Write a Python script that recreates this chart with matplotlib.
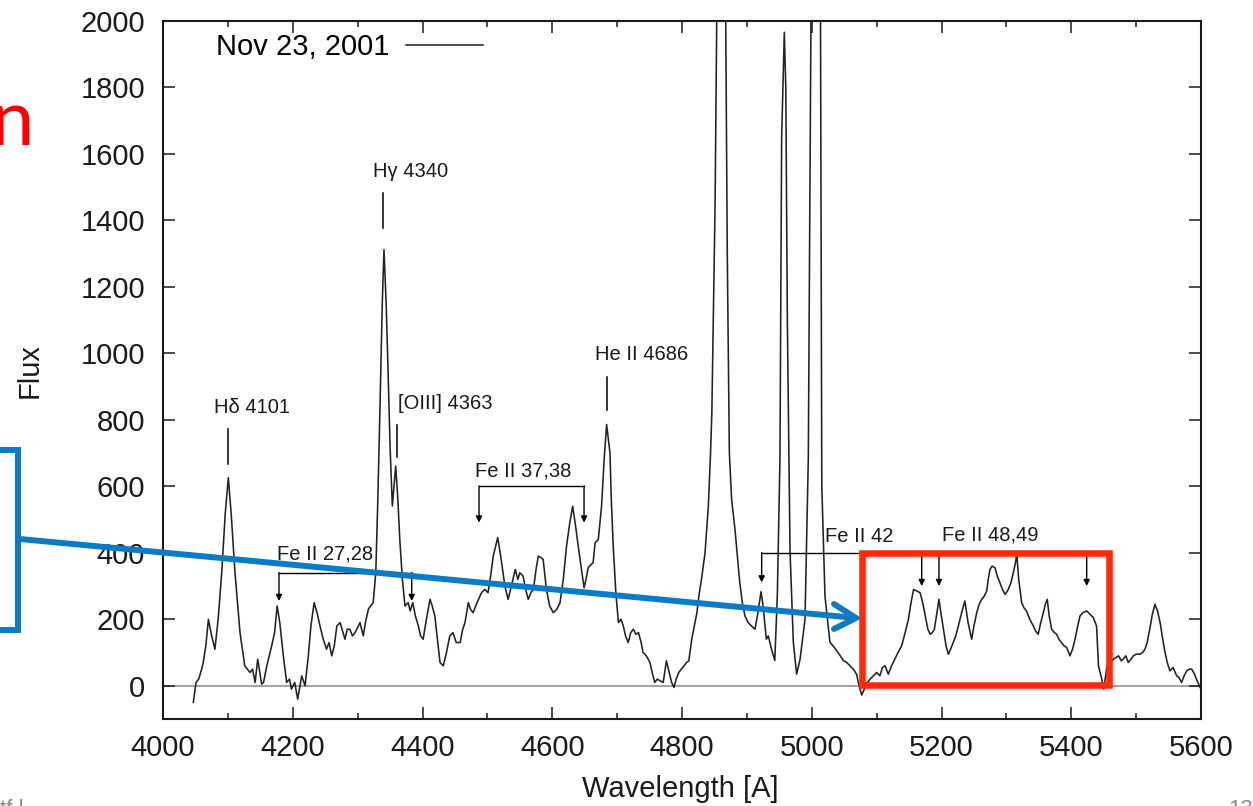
import numpy as np
import matplotlib
matplotlib.use("Agg")
import matplotlib.pyplot as plt
from matplotlib.lines import Line2D
from matplotlib.patches import Rectangle
from matplotlib.ticker import MultipleLocator

plt.rcParams['font.family'] = ['Liberation Sans', 'DejaVu Sans']

# spectrum (wavelength in A, flux)
wave = [4046.7, 4051, 4055, 4059.6, 4062, 4066, 4070, 4075, 4080, 4085, 4090.5, 4096,
        4100.7, 4105, 4111, 4118.7, 4126, 4134, 4138, 4142, 4146, 4152, 4155, 4160,
        4167.5, 4172, 4176, 4180, 4185.5, 4190.6, 4195, 4198, 4203, 4207.6, 4213.8, 4219,
        4224, 4228, 4233, 4238, 4242, 4247, 4252, 4256, 4260, 4264, 4268, 4273,
        4280.5, 4284, 4288, 4292, 4296, 4300, 4303.6, 4308.7, 4312, 4316.5, 4320, 4324,
        4328, 4331, 4334.5, 4338, 4340.6, 4344, 4347, 4350, 4353.5, 4356, 4358.7, 4362,
        4365, 4369, 4373, 4378, 4381, 4385, 4389, 4393.6, 4397, 4401, 4406, 4411.6,
        4415, 4419, 4423, 4427, 4432, 4437, 4442, 4447, 4452, 4458, 4462, 4465.5,
        4470.6, 4474, 4478, 4484, 4491, 4496, 4501, 4505, 4509, 4516, 4522, 4527,
        4532, 4537, 4543, 4547, 4550, 4555, 4559, 4563, 4567, 4571, 4575, 4578.5,
        4583, 4586, 4591, 4596, 4601.6, 4607, 4612, 4617, 4622, 4627, 4631.5, 4636,
        4640, 4645, 4649, 4652, 4655.6, 4660, 4663, 4666, 4671, 4676, 4680, 4683.8,
        4689, 4691, 4694, 4698, 4702, 4706, 4709.5, 4713, 4717, 4721, 4725, 4729,
        4733, 4737, 4740, 4745, 4750.6, 4754, 4758, 4762, 4766, 4771, 4776, 4781,
        4784, 4787.7, 4791, 4795, 4799, 4803, 4807, 4810.5, 4815, 4819, 4823, 4826,
        4830, 4835.5, 4840.6, 4844, 4846, 4848, 4851, 4853.5, 4857, 4861, 4865, 4867.4,
        4869.8, 4873, 4876.5, 4881.7, 4889, 4893, 4897, 4902, 4907, 4912.5, 4917, 4921.8,
        4925, 4930, 4933, 4938, 4943, 4946.9, 4951, 4953.6, 4957.7, 4960, 4962.4, 4966.5,
        4971.6, 4976.7, 4982, 4989.6, 4994.7, 4998.8, 5002, 5006, 5010, 5013.5, 5015.5, 5020.4,
        5028, 5035, 5039, 5044, 5048.7, 5054, 5059, 5064, 5069, 5073, 5077, 5081,
        5084.6, 5090, 5095, 5100, 5105, 5109, 5113, 5118, 5123, 5128, 5133, 5138.6,
        5144, 5149, 5153, 5157, 5162, 5167, 5171, 5175, 5179, 5182.6, 5186, 5189,
        5193, 5196, 5199, 5203, 5207, 5210.5, 5214, 5218, 5222, 5226, 5231, 5236,
        5241, 5246.5, 5250, 5254.3, 5258, 5262, 5266, 5269.7, 5272, 5274.8, 5278, 5282.5,
        5286, 5290, 5294, 5298, 5300, 5303, 5307, 5310.7, 5314, 5316, 5319, 5323.6,
        5327, 5331, 5336, 5341.6, 5345, 5349, 5353, 5357, 5360, 5363, 5366, 5369.8,
        5374, 5377.5, 5381, 5385, 5389, 5393, 5396, 5398, 5402, 5405.8, 5410, 5413.5,
        5418, 5424, 5429, 5434, 5439, 5442, 5447, 5450, 5453, 5455, 5460, 5465,
        5469, 5473, 5477, 5480, 5484, 5488, 5492, 5495.7, 5500, 5506, 5510, 5513.6,
        5517, 5521, 5525, 5529, 5533, 5537, 5541, 5544.6, 5548, 5552, 5557, 5562.5,
        5566, 5570, 5574, 5578, 5582, 5585.6, 5590, 5593, 5598.6]
flux = [-50, 10, 20, 50, 70, 120, 200, 150, 110, 200, 340, 520,
        626, 520, 340, 160, 60, 40, 50, 10, 80, 5, 10, 60,
        120, 160, 240, 190, 90, 10, 20, -10, 10, -40, 30, 0,
        90, 180, 250, 215, 180, 140, 110, 130, 90, 120, 180, 190,
        140, 170, 170, 150, 160, 175, 190, 150, 190, 230, 240, 250,
        340, 550, 841, 1150, 1312, 1150, 941, 720, 541, 600, 661, 560,
        440, 320, 240, 250, 225, 250, 210, 180, 150, 140, 200, 260,
        240, 210, 140, 70, 60, 100, 150, 160, 130, 130, 170, 190,
        250, 230, 220, 250, 280, 290, 280, 330, 390, 446, 370, 300,
        260, 300, 350, 320, 340, 330, 290, 260, 280, 290, 350, 390,
        385, 380, 290, 240, 220, 230, 250, 320, 420, 490, 540, 480,
        420, 350, 295, 320, 356, 365, 370, 430, 440, 540, 680, 786,
        700, 560, 420, 280, 190, 200, 180, 150, 130, 160, 170, 155,
        160, 130, 100, 90, 70, 40, 10, 20, 15, 10, 75, 35,
        10, -5, 20, 40, 50, 60, 70, 75, 140, 180, 220, 270,
        320, 400, 540, 700, 821, 1071, 1450, 2000, 2700, 3000, 2700, 2000,
        1300, 700, 560, 470, 311, 250, 210, 190, 180, 170, 220, 283,
        240, 140, 150, 110, 76, 269, 684, 1649, 1966, 1800, 1097, 407,
        131, 35, 80, 200, 684, 1980, 3500, 4500, 3500, 2000, 600, 269,
        131, 115, 104, 90, 76, 70, 60, 50, 35, 0, -28, -10,
        8, 20, 30, 40, 30, 55, 60, 35, 60, 80, 100, 120,
        160, 200, 250, 290, 285, 280, 250, 210, 170, 155, 160, 170,
        220, 260, 220, 170, 120, 95, 110, 130, 150, 180, 220, 255,
        190, 140, 180, 220, 245, 260, 270, 285, 320, 350, 360, 355,
        330, 310, 290, 275, 280, 290, 310, 340, 370, 396, 320, 250,
        235, 225, 200, 180, 165, 155, 190, 220, 245, 260, 210, 170,
        160, 155, 140, 130, 120, 115, 100, 90, 110, 140, 180, 210,
        220, 225, 215, 205, 180, 60, 20, -10, 30, 60, 70, 80,
        85, 90, 75, 80, 90, 70, 80, 90, 95, 95, 100, 110,
        130, 170, 215, 245, 225, 190, 140, 100, 70, 45, 55, 30,
        25, 10, 30, 45, 50, 50, 35, 20, -5]

# single-line identifications: label, line wavelength, tick top/bottom, text x, text baseline
line_names = ["H\u03b4 4101", "H\u03b3 4340", "[OIII] 4363", "He II 4686"]
line_wave = [4100.2, 4339.0, 4360.7, 4684.8]
line_tick = [(771, 666), (1483, 1378), (786, 687), (930, 829)]
line_text = [(4136.6, 822), (4382.0, 1532), (4435.4, 834), (4737.8, 979)]

# Fe II multiplet brackets
fe_names = ["Fe II 27,28", "Fe II 37,38", "Fe II 42", "Fe II 48,49"]
fe_text = [(4250.2, 381), (4555.4, 631), (5072.8, 432), (5275.5, 436)]
fe_brackets = [
    (340.7, [(4178.8, 255), (4383.4, 255)]),
    (601.0, [(4487.1, 491), (4649.0, 491)]),
    (400.8, [(4922.8, 311), (5169.5, 300), (5196.1, 300), (5423.8, 300)]),
]

W, H = 1253, 806
fig = plt.figure(figsize=(W / 100, H / 100), dpi=100)
ax = fig.add_axes([163 / W, 1 - 719 / H, 1038 / W, 698 / H])

ax.axhline(0, color='#9a9a9a', lw=1.3, zorder=1)
ax.plot(wave, flux, color='#222222', lw=1.15, label='Nov 23, 2001', zorder=2)

ax.set_xlim(4000, 5600)
ax.set_ylim(-100, 2000)
ax.set_xticks(np.arange(4000, 5601, 200))
ax.set_yticks(np.arange(0, 2001, 200))
ax.xaxis.set_minor_locator(MultipleLocator(100))
ax.tick_params(which='both', direction='in', top=True, right=True, width=1.1,
               labelsize=21, colors='#1a1a1a')
ax.tick_params(which='major', length=8.8)
ax.tick_params(which='minor', length=4.4)
ax.tick_params(axis='y', pad=13)
ax.tick_params(axis='x', pad=11)
for s in ax.spines.values():
    s.set_linewidth(1.5)
    s.set_color('#1a1a1a')

ax.set_xlabel('Wavelength [A]', fontsize=21, color='#1a1a1a')
ax.set_ylabel('Flux', fontsize=21, color='#1a1a1a')
ax.xaxis.set_label_coords(0.498, -0.08)
ax.yaxis.set_label_coords(-0.115, 0.5)

ax.legend(loc='center left', bbox_to_anchor=(0.0511, 0.963), markerfirst=False,
          frameon=False, fontsize=21, handlelength=2.62, handletextpad=0.58,
          borderpad=0, borderaxespad=0)

for name, w, (t1, t2), (tx, ty) in zip(line_names, line_wave, line_tick, line_text):
    ax.plot([w, w], [t1, t2], color='black', lw=1.1)
    ax.text(tx, ty, name, ha='center', va='baseline', fontsize=14.5, color='#1a1a1a')

for name, (tx, ty) in zip(fe_names, fe_text):
    ax.text(tx, ty, name, ha='center', va='baseline', fontsize=14.5, color='#1a1a1a')

for yb, arrows in fe_brackets:
    xs = [a[0] for a in arrows]
    ax.plot([min(xs), max(xs)], [yb, yb], color='black', lw=1.0)
    for xa, ya in arrows:
        ax.annotate('', xy=(xa, ya), xytext=(xa, yb),
                    arrowprops=dict(arrowstyle='-|>', color='black', lw=1.0,
                                    mutation_scale=9, shrinkA=0, shrinkB=0))

# slide overlay drawn in figure pixels
def px(x, y):
    return x / W, 1 - y / H

blue = '#0a7cc6'
red = '#fe2a08'
x0, y0 = px(-60, 630)
x1, y1 = px(18, 450)
fig.add_artist(Rectangle((x0, y0), x1 - x0, y1 - y0, transform=fig.transFigure,
                         fill=False, edgecolor=blue, lw=4.3, zorder=10))
ax_, ay_ = px(20, 539)
tx_, ty_ = px(856, 618)
fig.add_artist(Line2D([ax_, tx_], [ay_, ty_], transform=fig.transFigure,
                      color=blue, lw=4.3, zorder=10, solid_capstyle='butt'))
hx1, hy1 = px(834, 604)
hx2, hy2 = px(834, 629)
fig.add_artist(Line2D([hx1, tx_, hx2], [hy1, ty_, hy2], transform=fig.transFigure,
                      color=blue, lw=4.3, zorder=10, solid_capstyle='round',
                      solid_joinstyle='miter'))

rx0, ry0 = px(861.5, 685)
rx1, ry1 = px(1108.5, 553)
fig.add_artist(Rectangle((rx0 + 0.002, ry0 - 0.003), rx1 - rx0, ry1 - ry0,
                         transform=fig.transFigure, fill=False, edgecolor='#000000',
                         alpha=0.08, lw=6, zorder=10))
fig.add_artist(Rectangle((rx0, ry0), rx1 - rx0, ry1 - ry0, transform=fig.transFigure,
                         fill=False, edgecolor=red, lw=4.7, zorder=11))

fig.text(34 / W, 1 - 145 / H, 'n', color='#ff0000', fontsize=56, ha='right',
         va='baseline', family=['Lato', 'DejaVu Sans'])
fig.text(0 / W, 1 - 799 / H, 'tf l', color='#8a8a8a', fontsize=16, ha='left', va='top')
fig.text(1228 / W, 1 - 799 / H, '13', color='#8a8a8a', fontsize=16, ha='left', va='top')

fig.savefig('out.png', dpi=100)
